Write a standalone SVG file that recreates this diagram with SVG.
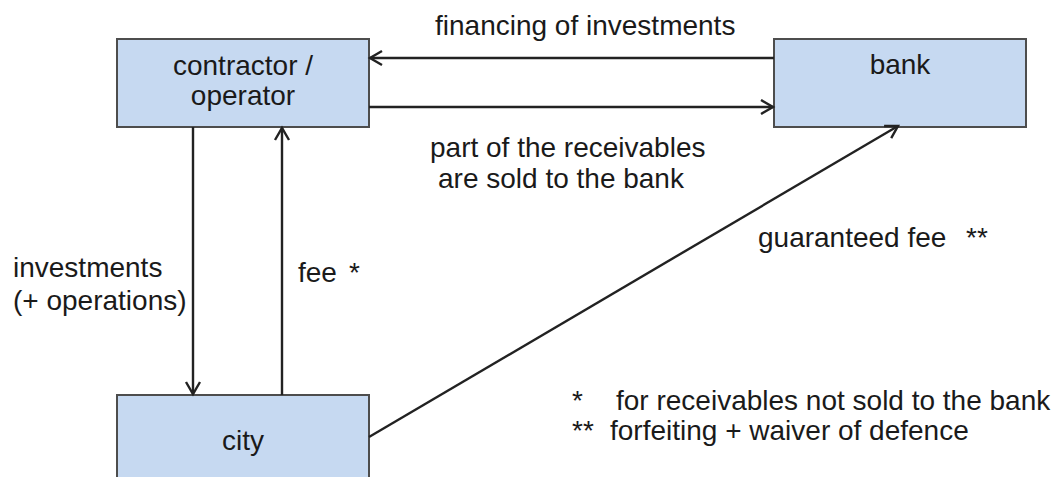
<svg xmlns="http://www.w3.org/2000/svg" width="1061" height="477" viewBox="0 0 1061 477">
  <style>
    .box { fill: #c6d9f1; stroke: #4d4d4d; stroke-width: 2; }
    .t { font-family: "Liberation Sans", Arial, sans-serif; font-size: 28px; fill: #1a1a1a; }
    .c { text-anchor: middle; }
    .ln { stroke: #222222; stroke-width: 2.4; fill: none; }
  </style>
  <defs>
    <marker id="arr" markerUnits="userSpaceOnUse" markerWidth="20" markerHeight="20" viewBox="-14 -10 16 20" refX="0" refY="0" orient="auto">
      <path d="M-12,-7 L0,0 L-12,7" fill="none" stroke="#222222" stroke-width="2.4"/>
    </marker>
  </defs>
  <rect width="1061" height="477" fill="#ffffff"/>

  <g id="contractor">
    <rect class="box" x="117" y="39" width="252" height="88"/>
    <text class="t c" x="243" y="75">contractor /</text>
    <text class="t c" x="243" y="105">operator</text>
  </g>
  <g id="bank">
    <rect class="box" x="774" y="39" width="252" height="88"/>
    <text class="t c" x="900" y="74">bank</text>
  </g>
  <g id="city">
    <rect class="box" x="117" y="395" width="252" height="100"/>
    <text class="t c" x="243" y="450">city</text>
  </g>

  <g id="connectors">
    <line class="ln" x1="774" y1="58" x2="370" y2="58" marker-end="url(#arr)"/>
    <line class="ln" x1="369" y1="107" x2="773" y2="107" marker-end="url(#arr)"/>
    <line class="ln" x1="193" y1="127" x2="193" y2="394" marker-end="url(#arr)"/>
    <line class="ln" x1="282" y1="395" x2="282" y2="128" marker-end="url(#arr)"/>
    <line class="ln" x1="369" y1="437" x2="898" y2="126" marker-end="url(#arr)"/>
  </g>

  <g id="labels">
    <text class="t" x="435" y="35">financing of investments</text>
    <text class="t" x="430" y="157">part of the receivables</text>
    <text class="t" x="438" y="188">are sold to the bank</text>
    <text class="t" x="758" y="247">guaranteed fee<tspan x="966">**</tspan></text>
    <text class="t" x="13" y="277">investments</text>
    <text class="t" x="13" y="310">(+ operations)</text>
    <text class="t" x="298" y="282">fee<tspan x="349">*</tspan></text>
    <text class="t" x="572" y="410">*</text>
    <text class="t" x="616" y="410">for receivables not sold to the bank</text>
    <text class="t" x="572" y="440">**</text>
    <text class="t" x="610" y="440">forfeiting + waiver of defence</text>
  </g>
</svg>
